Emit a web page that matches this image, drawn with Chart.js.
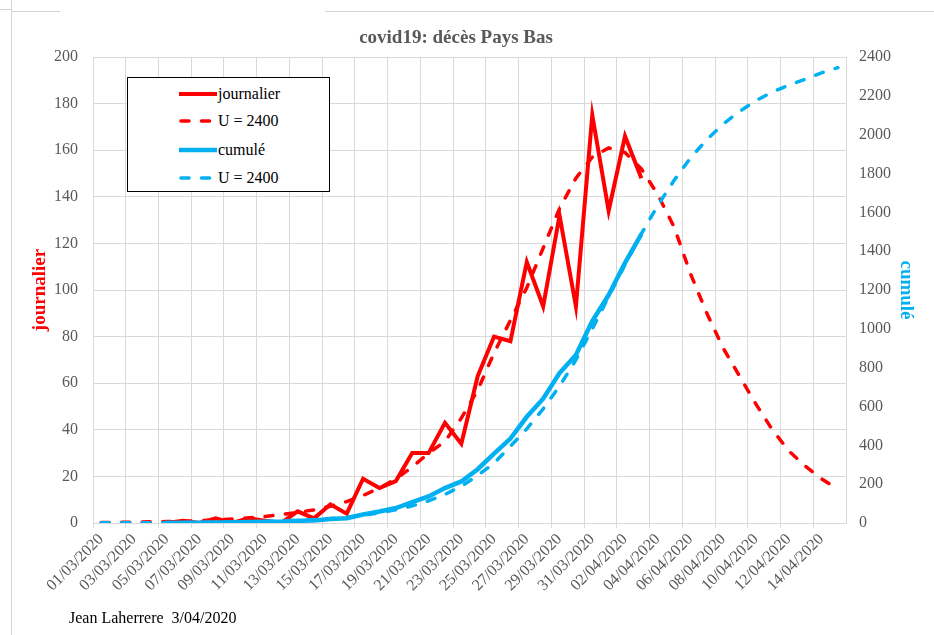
<!DOCTYPE html>
<html>
<head>
<meta charset="utf-8">
<title>covid19: décès Pays Bas</title>
<script src="https://cdn.jsdelivr.net/npm/chart.js@4.4.1/dist/chart.umd.min.js"></script>
<style>
  html, body { margin: 0; padding: 0; background: #fff; }
  #wrap { position: relative; width: 934px; height: 635px; overflow: hidden; background: #fff; }
  #chart { position: absolute; left: 0; top: 0; }
  .frame { position: absolute; background: #d4d4d4; }
  #titre {
    position: absolute; left: 256px; width: 400px; top: 25px; text-align: center;
    font-family: "Liberation Serif", "Times New Roman", serif; font-size: 19px; font-weight: bold;
    line-height: 24px; color: #595959;
  }
  #legend {
    position: absolute; left: 127px; top: 77px; width: 203px; height: 115px;
    box-sizing: border-box; border: 1px solid #000; background: #fff;
    font-family: "Liberation Serif", "Times New Roman", serif; font-size: 16px; color: #000;
  }
  .row { position: absolute; left: 0; width: 100%; height: 20px; }
  .row svg { position: absolute; left: 51px; top: 0; }
  .row span { position: absolute; left: 90px; top: 0; line-height: 20px; white-space: pre; }
  #footer {
    position: absolute; left: 69px; top: 609px; white-space: pre;
    font-family: "Liberation Serif", "Times New Roman", serif; font-size: 16px; color: #000;
  }
</style>
</head>
<body>
<div id="wrap">
  <canvas id="chart" width="934" height="635"></canvas>
  <div class="frame" style="left:11px;top:0;width:1px;height:635px"></div>
  <div class="frame" style="left:0;top:9px;width:11px;height:1px"></div>
  <div class="frame" style="left:11px;top:11px;width:49px;height:1px"></div>
  <div class="frame" style="left:325px;top:11px;width:609px;height:1px"></div>
  <div id="titre">covid19: décès Pays Bas</div>
  <div id="legend"></div>
  <div id="footer">Jean Laherrere  3/04/2020</div>
</div>
<script>
// --- données ---
const dates = [
  '01/03/2020', '02/03/2020', '03/03/2020', '04/03/2020', '05/03/2020', '06/03/2020',
  '07/03/2020', '08/03/2020', '09/03/2020', '10/03/2020', '11/03/2020', '12/03/2020',
  '13/03/2020', '14/03/2020', '15/03/2020', '16/03/2020', '17/03/2020', '18/03/2020',
  '19/03/2020', '20/03/2020', '21/03/2020', '22/03/2020', '23/03/2020', '24/03/2020',
  '25/03/2020', '26/03/2020', '27/03/2020', '28/03/2020', '29/03/2020', '30/03/2020',
  '31/03/2020', '01/04/2020', '02/04/2020', '03/04/2020', '04/04/2020', '05/04/2020',
  '06/04/2020', '07/04/2020', '08/04/2020', '09/04/2020', '10/04/2020', '11/04/2020',
  '12/04/2020', '13/04/2020', '14/04/2020', '15/04/2020'
];

// décès journaliers observés
const journalier = [
  null, null, null, null, 0, 1, 0, 2, 0, 2, 1, 0,
  5, 2, 8, 4, 19, 15, 18, 30, 30, 43, 34, 63,
  80, 78, 112, 93, 132, 93, 175, 134, 166, 148,
  null, null, null, null, null, null, null, null, null, null, null, null
];

// modèle journalier U = 2400
const modeleJour = [
  0.2, 0.3, 0.4, 0.5, 0.6, 0.8, 1.0, 1.3, 1.7, 2.2, 2.8, 3.6,
  4.6, 5.6, 7.2, 9.2, 11.8, 15, 19, 24, 30, 35, 45, 57,
  73, 87, 101, 118, 135, 148, 157, 161, 159, 152, 141, 127,
  107, 90, 75, 63, 51, 40, 31, 24.5, 19, 14.5
];

// décès cumulés observés
const cumule = [
  null, null, null, null, 0, 1, 1, 3, 3, 5, 6, 6,
  11, 13, 21, 25, 44, 59, 77, 107, 137, 180, 214, 277,
  357, 435, 547, 640, 772, 865, 1040, 1174, 1340, 1488,
  null, null, null, null, null, null, null, null, null, null, null, null
];

// modèle cumulé U = 2400
const modeleCumul = [
  1, 1, 1, 1, 2, 2, 3, 4, 5, 6, 8, 10,
  14, 18, 23, 30, 40, 52, 68, 88, 114, 147, 189, 245,
  308, 395, 485, 588, 705, 840, 1000, 1165, 1330, 1490, 1635, 1765,
  1880, 1975, 2055, 2120, 2175, 2220, 2255, 2285, 2318, 2345
];

const leftTicks = { min: 0, max: 200, step: 20 };
const rightTicks = { min: 0, max: 2400, step: 200 };

const ROUGE = '#ff0000';
const BLEU = '#00b0f0';
const GRILLE = '#d9d9d9';
const TEXTE = '#595959';
const SERIF = '"Liberation Serif", "Times New Roman", serif';

const datasets = [
  { label: 'journalier', data: journalier, borderColor: ROUGE, borderWidth: 4, yAxisID: 'y', order: 4 },
  { label: 'U = 2400', data: modeleJour, borderColor: ROUGE, borderWidth: 3.5, borderDash: [8, 12.5],
    borderCapStyle: 'round', yAxisID: 'y', order: 3 },
  { label: 'cumulé', data: cumule, borderColor: BLEU, borderWidth: 4.5, yAxisID: 'y1', order: 2 },
  { label: 'U = 2400', data: modeleCumul, borderColor: BLEU, borderWidth: 3.5, borderDash: [8, 12.5],
    borderCapStyle: 'round', yAxisID: 'y1', order: 1 }
];

const chart = new Chart(document.getElementById('chart'), {
  type: 'line',
  data: { labels: dates, datasets: datasets },
  options: {
    responsive: false,
    animation: false,
    layout: { padding: { top: 57, left: 0, right: 0, bottom: 0 } },
    elements: { point: { radius: 0 }, line: { tension: 0, fill: false } },
    plugins: {
      legend: { display: false },
      tooltip: { enabled: false },
      title: { display: false }
    },
    scales: {
      x: {
        type: 'category',
        offset: true,
        grid: {
          offset: true,
          tickLength: 5,
          color: ctx => (ctx.index % 2 === 0 ? GRILLE : 'rgba(0,0,0,0)')
        },
        border: { color: GRILLE },
        ticks: {
          autoSkip: false,
          minRotation: 45,
          maxRotation: 45,
          padding: 2,
          color: TEXTE,
          font: { family: SERIF, size: 16 },
          callback: function (v, i) { return i % 2 === 0 ? this.getLabelForValue(v) : ''; }
        },
        afterFit: s => { s.height = 112; }
      },
      y: {
        position: 'left',
        min: leftTicks.min,
        max: leftTicks.max,
        grid: { color: GRILLE, drawTicks: false },
        border: { color: GRILLE },
        ticks: { stepSize: leftTicks.step, padding: 15, color: TEXTE, font: { family: SERIF, size: 16 } },
        title: {
          display: true, text: 'journalier', color: ROUGE,
          font: { family: SERIF, size: 19, weight: 'bold', lineHeight: 1.2 },
          padding: { top: 29 }
        },
        afterFit: s => { s.width = 93; }
      },
      y1: {
        position: 'right',
        min: rightTicks.min,
        max: rightTicks.max,
        grid: { drawOnChartArea: false, drawTicks: false },
        border: { color: GRILLE },
        ticks: {
          stepSize: rightTicks.step, padding: 13, color: TEXTE, font: { family: SERIF, size: 16 },
          callback: v => String(v)
        },
        title: {
          display: true, text: 'cumulé', color: BLEU,
          font: { family: SERIF, size: 19, weight: 'bold', lineHeight: 1.2 },
          padding: { top: 17 }
        },
        afterFit: s => { s.width = 88; }
      }
    }
  }
});

// --- légende encadrée, construite à partir des séries ---
const legendBox = document.getElementById('legend');
const rowCenters = [15.5, 43, 72, 99.5];
chart.data.datasets.forEach((ds, i) => {
  const row = document.createElement('div');
  row.className = 'row';
  row.style.top = (rowCenters[i] - 10) + 'px';
  const dash = ds.borderDash ? `stroke-dasharray="${ds.borderDash.join(' ')}" stroke-linecap="round"` : '';
  const x0 = ds.borderDash ? 2 : 0;
  row.innerHTML =
    `<svg width="40" height="20"><line x1="${x0}" y1="10" x2="38" y2="10" stroke="${ds.borderColor}" ` +
    `stroke-width="${ds.borderWidth}" ${dash}/></svg><span>${ds.label}</span>`;
  legendBox.appendChild(row);
});
</script>
</body>
</html>
